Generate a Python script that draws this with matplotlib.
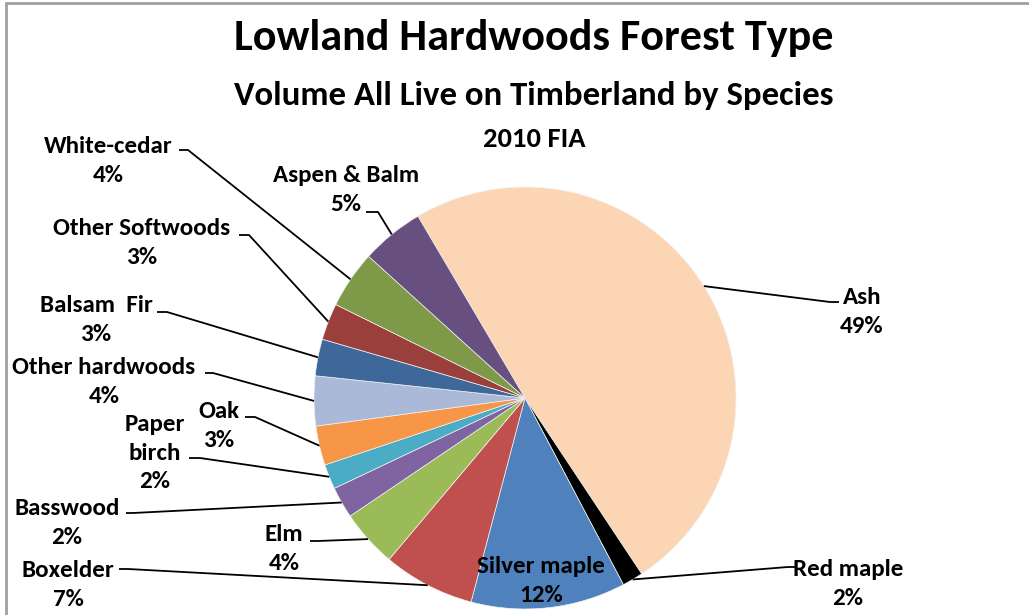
import matplotlib
matplotlib.use("Agg")
import numpy as np
import matplotlib.pyplot as plt
from matplotlib.patches import Rectangle

plt.rcParams['font.family'] = ['Carlito', 'Lato', 'DejaVu Sans']
plt.rcParams['font.weight'] = 'bold'

# ------------------------------------------------------------
# Data (percent of volume, clockwise from the Ash slice)
# ------------------------------------------------------------
species = ["Ash", "Red maple", "Silver maple", "Boxelder", "Elm", "Basswood",
           "Paper birch", "Oak", "Other hardwoods", "Balsam  Fir",
           "Other Softwoods", "White-cedar", "Aspen & Balm"]
volume_pct = [49.0, 1.6, 11.8, 7.0, 4.4, 2.4, 1.9, 3.0, 3.8, 2.8, 2.8, 4.4, 4.8]
colors = ["#FCD5B4", "#000000", "#4F81BD", "#C0504D", "#9BBB59", "#8064A2",
          "#4BACC6", "#F79646", "#AAB9D7", "#3E6899", "#9B3F3D", "#7E9A48",
          "#67507F"]
label_names = ["Ash", "Red maple", "Silver maple", "Boxelder", "Elm", "Basswood",
               "Paper\nbirch", "Oak", "Other hardwoods", "Balsam  Fir",
               "Other Softwoods", "White-cedar", "Aspen & Balm"]

# layout (pixels, origin top-left): label block centre + leader stub
label_xy = [(862, 312), (848, 584), (541, 581), (68, 585), (284, 549), (67, 523),
            (155, 453), (219, 426), (104, 382), (96, 320), (142, 243),
            (108, 161), (346, 190)]
stubs = [(839, 830, 302), (797, 788, 567), None, (119, 128, 569),
         (310, 318, 541), (126, 133, 513), (189, 200, 458), (245, 255, 417),
         (205, 213, 373), (157, 167, 312), (239, 249, 235), (179, 188, 150),
         (366, 378, 212)]

W, H = 1029, 615
CX, CY, R = 525, 398, 211


def fy(y):
    return H - y


fig = plt.figure(figsize=(W / 100, H / 100), dpi=100)
ax = fig.add_axes([0, 0, 1, 1])

wedges, _ = ax.pie(volume_pct, colors=colors, startangle=120.5,
                   counterclock=False, center=(CX, fy(CY)), radius=R,
                   wedgeprops=dict(edgecolor='#F2F2F2', linewidth=0.5))
ax.set_xlim(0, W)
ax.set_ylim(0, H)
ax.set_aspect('equal')
ax.axis('off')

total = sum(volume_pct)
for i, w in enumerate(wedges):
    pct = volume_pct[i] / total * 100
    txt = f"{label_names[i]}\n{pct:.0f}%"
    lx, ly = label_xy[i]
    ax.text(lx, fy(ly), txt, ha='center', va='center', fontsize=18,
            fontweight='bold', linespacing=1.42, color='black')
    if stubs[i] is None:
        continue
    mid = np.deg2rad((w.theta1 + w.theta2) / 2)
    px = CX + R * np.cos(mid)
    py = fy(CY) + R * np.sin(mid)
    x0, x1, sy = stubs[i]
    ax.plot([x0, x1, px], [fy(sy), fy(sy), py], color='black', lw=1.3,
            solid_capstyle='butt')

# titles
ax.text(534, fy(38), "Lowland Hardwoods Forest Type", ha='center', va='center',
        fontsize=31.8, fontweight='bold')
ax.text(534, fy(95), "Volume All Live on Timberland by Species", ha='center',
        va='center', fontsize=25, fontweight='bold')
ax.text(534, fy(139), "2010 FIA", ha='center', va='center', fontsize=20.5,
        fontweight='bold')

# chart frame (only top/left visible in the crop)
ax.add_patch(Rectangle((6, -20), W + 20, fy(3) + 20, fill=False,
                       edgecolor='#A0A0A0', lw=2, clip_on=False))

fig.savefig("out.png", dpi=100)
